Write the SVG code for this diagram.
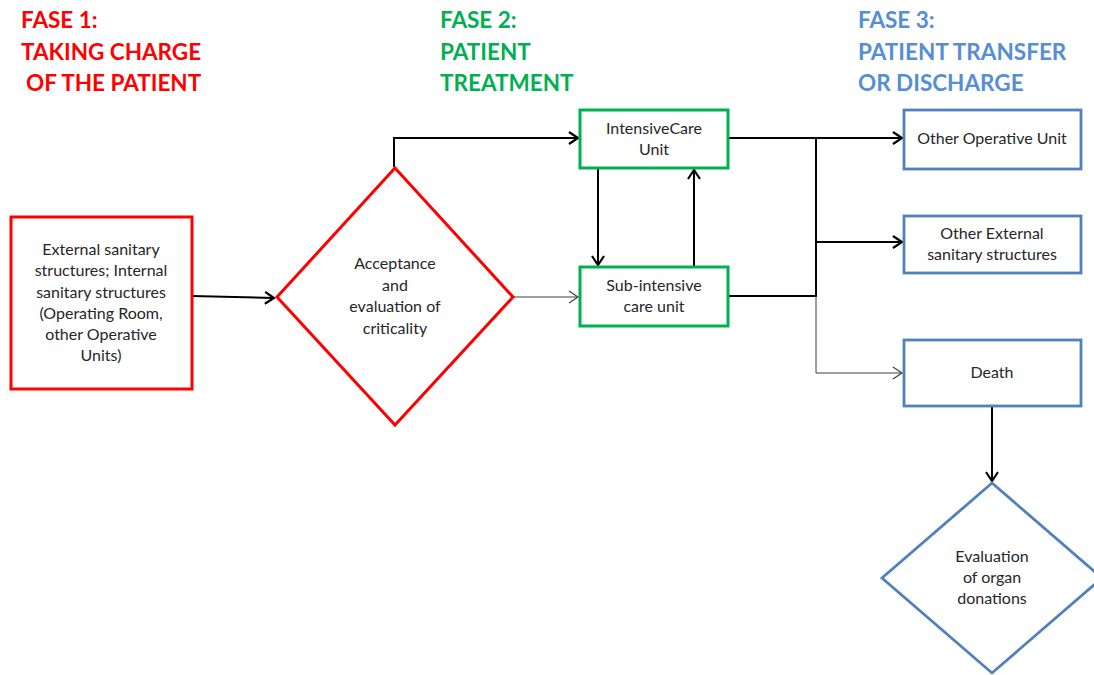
<svg xmlns="http://www.w3.org/2000/svg" width="1094" height="675" viewBox="0 0 1094 675">
<defs>
<marker id="ah" markerUnits="userSpaceOnUse" markerWidth="14" markerHeight="16" viewBox="0 0 14 16" refX="11" refY="8" orient="auto">
<path d="M2,2 L11,8 L2,14" fill="none" stroke="#000" stroke-width="2.2" stroke-linejoin="miter"/>
</marker>
<marker id="aht" markerUnits="userSpaceOnUse" markerWidth="14" markerHeight="16" viewBox="0 0 14 16" refX="11" refY="8" orient="auto">
<path d="M2,2 L11,8 L2,14" fill="none" stroke="#404040" stroke-width="1.2"/>
</marker>
</defs>
<style>
.h{font-family:Lato,"Liberation Sans",sans-serif;font-weight:bold;font-size:22.5px}
.t{font-family:Lato,"Liberation Sans",sans-serif;font-size:16px;fill:#262626;text-anchor:middle}
.red{fill:#fff;stroke:#FF0000;stroke-width:3}
.grn{fill:#fff;stroke:#00B050;stroke-width:3}
.blu{fill:#fff;stroke:#4F81BD;stroke-width:2.8}
.c{fill:none;stroke:#000;stroke-width:2}
.ct{fill:none;stroke:#404040;stroke-width:1}
</style>
<rect width="1094" height="675" fill="#fff"/>
<g id="headings">
<text class="h" fill="#FF0000"><tspan x="21" y="28">FASE 1:</tspan><tspan x="21" y="60">TAKING CHARGE</tspan><tspan x="26" y="91">OF THE PATIENT</tspan></text>
<text class="h" fill="#00B050"><tspan x="440" y="28">FASE 2:</tspan><tspan x="440" y="60">PATIENT</tspan><tspan x="440" y="91">TREATMENT</tspan></text>
<text class="h" fill="#558ED5"><tspan x="858" y="28">FASE 3:</tspan><tspan x="858" y="60">PATIENT TRANSFER</tspan><tspan x="858" y="91">OR DISCHARGE</tspan></text>
</g>
<g id="connectors">
<path class="c" d="M192,296 L274,298" marker-end="url(#ah)"/>
<path class="c" d="M394,167 V138 H578" marker-end="url(#ah)"/>
<path class="ct" d="M514,297 H578" marker-end="url(#aht)"/>
<path class="c" d="M598,168 V265" marker-end="url(#ah)"/>
<path class="c" d="M694,267 V170" marker-end="url(#ah)"/>
<path class="c" d="M728,138 H902" marker-end="url(#ah)"/>
<path class="c" d="M816,138 V296 M728,296 H817"/>
<path class="c" d="M816,242 H902" marker-end="url(#ah)"/>
<path class="ct" d="M816,296 V373 H902" marker-end="url(#aht)"/>
<path class="c" d="M992,406 V481" marker-end="url(#ah)"/>
</g>
<g id="source">
<rect class="red" x="11" y="217" width="181" height="172"/>
<text class="t"><tspan x="101" y="255">External sanitary</tspan><tspan x="101" y="276">structures; Internal</tspan><tspan x="101" y="298">sanitary structures</tspan><tspan x="101" y="319">(Operating Room,</tspan><tspan x="101" y="340">other Operative</tspan><tspan x="101" y="361">Units)</tspan></text>
</g>
<g id="acceptance">
<polygon class="red" points="395,168 513,297 395,425 277,297"/>
<text class="t"><tspan x="395" y="269">Acceptance</tspan><tspan x="395" y="291">and</tspan><tspan x="395" y="312">evaluation of</tspan><tspan x="395" y="334">criticality</tspan></text>
</g>
<g id="icu">
<rect class="grn" x="580" y="110" width="148" height="58"/>
<text class="t"><tspan x="654" y="134">IntensiveCare</tspan><tspan x="654" y="155">Unit</tspan></text>
</g>
<g id="subintensive">
<rect class="grn" x="580" y="267" width="148" height="59"/>
<text class="t"><tspan x="654" y="291">Sub-intensive</tspan><tspan x="654" y="312">care unit</tspan></text>
</g>
<g id="other-operative">
<rect class="blu" x="904" y="110" width="177" height="59"/>
<text class="t"><tspan x="992" y="144">Other Operative Unit</tspan></text>
</g>
<g id="other-external">
<rect class="blu" x="904" y="216" width="177" height="57"/>
<text class="t"><tspan x="992" y="239">Other External</tspan><tspan x="992" y="260">sanitary structures</tspan></text>
</g>
<g id="death">
<rect class="blu" x="904" y="340" width="177" height="66"/>
<text class="t"><tspan x="992" y="378">Death</tspan></text>
</g>
<g id="organ-donation">
<polygon class="blu" points="992,483 1102,578 992,673 882,578"/>
<text class="t"><tspan x="992" y="562">Evaluation</tspan><tspan x="992" y="583">of organ</tspan><tspan x="992" y="604">donations</tspan></text>
</g>
</svg>
